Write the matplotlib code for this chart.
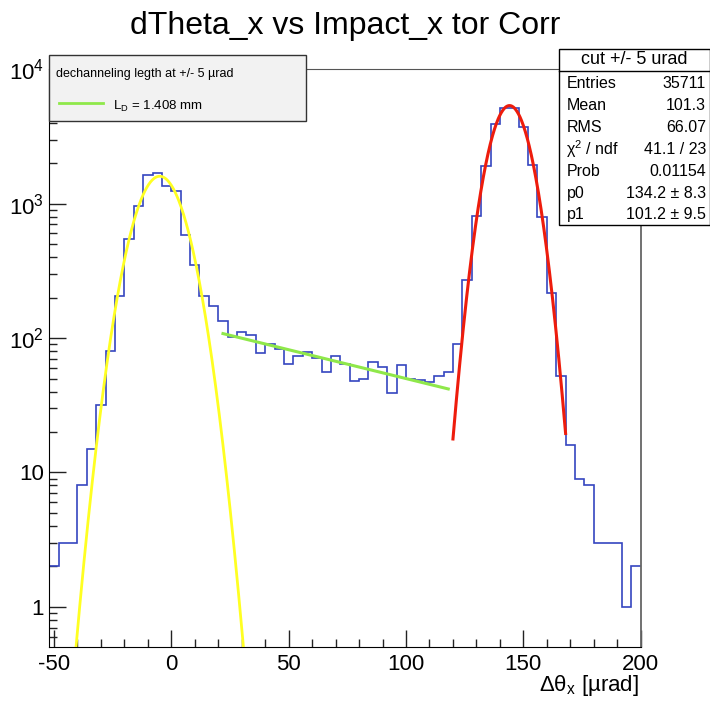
import numpy as np
import matplotlib
matplotlib.use("Agg")
import matplotlib.pyplot as plt
import matplotlib.ticker as ticker
from matplotlib.patches import Rectangle
from matplotlib.lines import Line2D

plt.rcParams['font.family'] = ['Liberation Sans', 'DejaVu Sans']
plt.rcParams['mathtext.default'] = 'regular'
plt.rcParams['axes.unicode_minus'] = False

# histogram: 63 bins of 4 urad from -52 to 200
bin_lo = -52
bin_w = 4
counts = [2, 3, 3, 8, 15, 32, 80,
          207, 545, 955, 1645, 1678, 1345,
          1243, 584, 351, 204, 172, 134, 102, 111, 106, 78,
          91, 83, 64, 73, 79, 71, 56, 74, 64, 48,
          50, 66, 61, 39, 63, 50, 49, 47, 52, 56,
          91, 269, 803, 1900, 3928, 5150, 5150, 3750, 1935, 794,
          216, 52, 16, 9, 8, 3, 3, 3, 1, 2]
edges = bin_lo + bin_w * np.arange(len(counts) + 1)

# fitted functions
core_fit = [1600, -4.95, 8.88]      # gaus: amp, mean, sigma
core_range = [-45, 32]
peak_fit = [5370, 144.1, 7.13]
peak_range = [120, 168]
dech_fit = [134.2, 101.2]           # p0 * exp(-x / p1)
dech_range = [22, 118]

stats_title = "cut +/- 5 urad"
stats_names = ["Entries", "Mean", "RMS", "$\\chi^{2}$ / ndf", "Prob", "p0", "p1"]
stats_vals = ["35711", "101.3", "66.07", "41.1 / 23", "0.01154",
              "134.2 \u00b1 8.3", "101.2 \u00b1 9.5"]

W, H = 710, 702


def fx(px):
    return px / W


def fy(py):
    return 1 - py / H


fig = plt.figure(figsize=(7.1, 7.02), dpi=100)
ax = fig.add_axes([fx(49.3), fy(646.7), (640.7 - 49.3) / W, (646.7 - 69.3) / H])

ax.stairs(counts, edges, baseline=None, color='#3545c0', lw=1.2, zorder=2)

def gaus(x, p):
    return p[0] * np.exp(-0.5 * ((x - p[1]) / p[2]) ** 2)

xc = np.linspace(core_range[0], core_range[1], 300)
ax.plot(xc, gaus(xc, core_fit), color='#ffff22', lw=2, zorder=3)
xp = np.linspace(peak_range[0], peak_range[1], 300)
ax.plot(xp, gaus(xp, peak_fit), color='#ee1c0c', lw=2.2, zorder=3)
xd = np.linspace(dech_range[0], dech_range[1], 100)
ax.plot(xd, dech_fit[0] * np.exp(-xd / dech_fit[1]), color='#8fe84a', lw=2.2, zorder=3)

ax.set_yscale('log')
ax.set_xlim(-52, 200)
ax.set_ylim(0.505, 1e4)

ax.xaxis.set_major_locator(ticker.MultipleLocator(50))
ax.xaxis.set_minor_locator(ticker.MultipleLocator(10))
ax.yaxis.set_major_locator(ticker.LogLocator(base=10, numticks=10))
ax.yaxis.set_minor_locator(ticker.LogLocator(base=10, subs=np.arange(2, 10), numticks=20))
ax.yaxis.set_minor_formatter(ticker.NullFormatter())


def ylab(v, pos):
    e = int(round(np.log10(v)))
    if e == 0:
        return "1"
    if e == 1:
        return "10"
    return "$10^{%d}$" % e

ax.yaxis.set_major_formatter(ticker.FuncFormatter(ylab))

ax.tick_params(which='both', direction='in', top=False, right=False, width=1, colors='#222222')
ax.tick_params(which='major', length=12, labelsize=16)
ax.tick_params(which='minor', length=6)
ax.tick_params(axis='x', pad=5)
ax.tick_params(axis='y', pad=4)
for lab in ax.get_xticklabels() + ax.get_yticklabels():
    lab.set_color('black')

ax.spines['left'].set_color('black')
ax.spines['bottom'].set_color('black')
ax.spines['top'].set_color('#555555')
ax.spines['right'].set_color('#666666')
ax.spines['right'].set_linewidth(1.3)

fig.text(fx(639), fy(686), "\u0394\u03b8$_{x}$ [\u00b5rad]", fontsize=16, ha='right', va='center')

fig.text(fx(345), fy(26), "dTheta_x vs Impact_x tor Corr", fontsize=23, ha='center', va='center')

# legend box
fig.patches.append(Rectangle((fx(49.3), fy(120.7)), (306 - 49.3) / W, (120.7 - 54.7) / H,
                             transform=fig.transFigure, facecolor='#f2f2f2',
                             edgecolor='#333333', lw=1, zorder=5))
fig.text(fx(55.7), fy(74.5), "dechanneling legth at +/- 5 \u00b5rad", fontsize=9,
         ha='left', va='center', zorder=6)
fig.lines.append(Line2D([fx(59.3), fx(103.3)], [fy(103.3), fy(103.3)],
                        transform=fig.transFigure, color='#8fe84a', lw=2, zorder=6))
fig.text(fx(112.7), fy(106.5), "L$_{D}$ = 1.408 mm", fontsize=9.5,
         ha='left', va='center', zorder=6)

# stats box
fig.patches.append(Rectangle((fx(558.5), fy(225)), (709.5 - 558.5) / W, (225 - 49.3) / H,
                             transform=fig.transFigure, facecolor='white',
                             edgecolor='black', lw=1, zorder=5))
fig.lines.append(Line2D([fx(558.5), fx(709.5)], [fy(70.7), fy(70.7)],
                        transform=fig.transFigure, color='black', lw=1, zorder=6))
fig.text(fx(634), fy(60), stats_title, fontsize=13, ha='center', va='center', zorder=6)
for i in range(len(stats_names)):
    yy = 83.5 + 21.9 * i
    fig.text(fx(566.5), fy(yy), stats_names[i], fontsize=11.5, ha='left', va='center', zorder=6)
    fig.text(fx(706), fy(yy), stats_vals[i], fontsize=11.5, ha='right', va='center', zorder=6)

fig.savefig("out.png", dpi=100)
